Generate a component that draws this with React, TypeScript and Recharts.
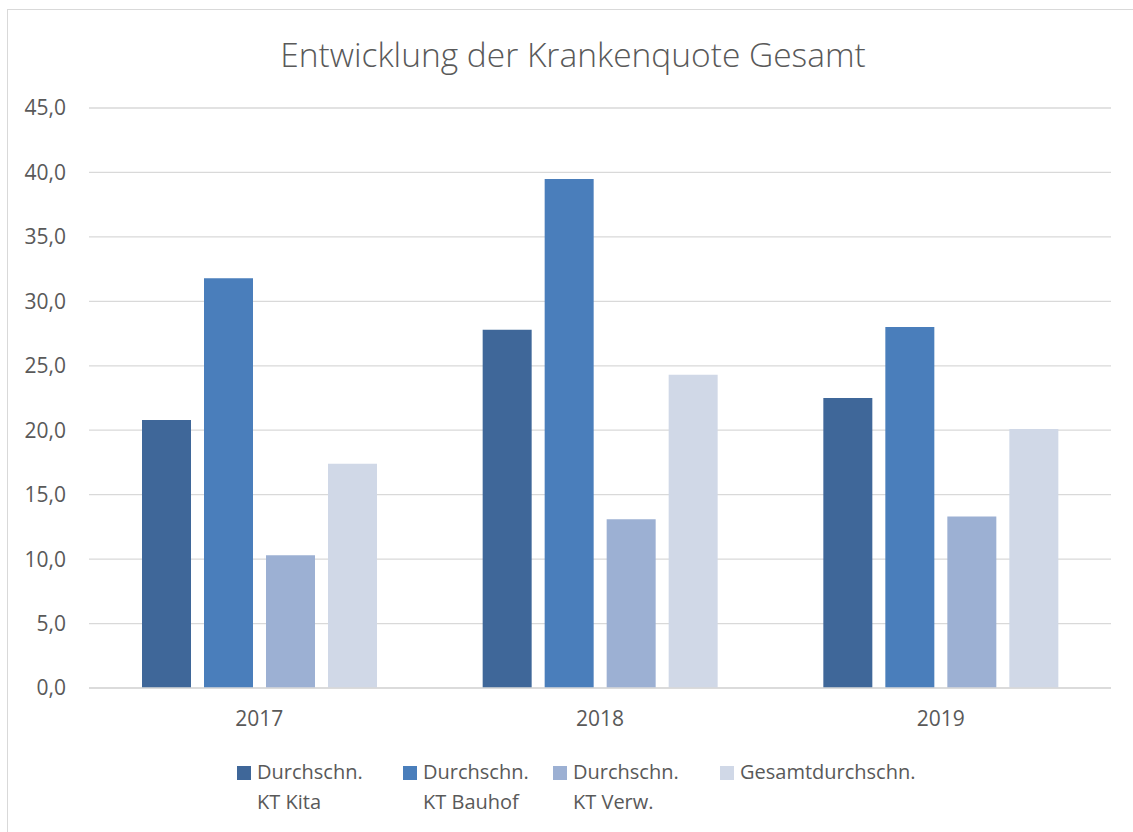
import React from "react";
import { BarChart, Bar, XAxis, YAxis, CartesianGrid } from "recharts";

// values
const years = ["2017", "2018", "2019"];
const ktKita = [20.8, 27.8, 22.5];
const ktBauhof = [31.8, 39.5, 28.0];
const ktVerw = [10.3, 13.1, 13.3];
const gesamt = [17.4, 24.3, 20.1];
const yTicks = [0, 5, 10, 15, 20, 25, 30, 35, 40, 45];

const seriesDefs = [
  { key: "kita", label: ["Durchschn.", "KT Kita"], color: "#3F6799" },
  { key: "bauhof", label: ["Durchschn.", "KT Bauhof"], color: "#4A7EBB" },
  { key: "verw", label: ["Durchschn.", "KT Verw."], color: "#9CB0D3" },
  { key: "gesamt", label: ["Gesamtdurchschn."], color: "#D0D8E7" },
];

const legendX = [237, 403, 553, 720];

const data = years.map((y, i) => ({
  year: y,
  kita: ktKita[i],
  bauhof: ktBauhof[i],
  verw: ktVerw[i],
  gesamt: gesamt[i],
}));

const FONT = "'Open Sans', sans-serif";
const TEXT = "#595959";

const fmt = (v: number) => v.toFixed(1).replace(".", ",");

export default function App() {
  return (
    <div
      style={{
        position: "absolute",
        left: 0,
        top: 0,
        width: 1133,
        height: 832,
        overflow: "hidden",
        background: "#fff",
        fontFamily: FONT,
      }}
    >
      <div
        style={{
          position: "absolute",
          left: 7,
          top: 9,
          width: 1160,
          height: 860,
          border: "1.5px solid #D9D9D9",
        }}
      />
      <div
        style={{
          position: "absolute",
          top: 31,
          left: 0,
          width: 1146,
          textAlign: "center",
          fontSize: 33.5,
          fontWeight: 300,
          color: TEXT,
        }}
      >
        Entwicklung der Krankenquote Gesamt
      </div>

      <div style={{ position: "absolute", left: 0, top: 0 }}>
        <BarChart
          width={1133}
          height={832}
          data={data}
          margin={{ top: 108, right: 22, bottom: 104, left: 0 }}
          barSize={49}
          barGap={13}
        >
          <CartesianGrid vertical={false} stroke="#D9D9D9" strokeWidth={1.3} />
          <XAxis
            dataKey="year"
            height={40}
            tickLine={false}
            axisLine={{ stroke: "#D9D9D9", strokeWidth: 1.5 }}
            tick={{ fill: TEXT, fontSize: 21, fontFamily: FONT }}
            tickMargin={17}
          />
          <YAxis
            width={89}
            domain={[0, 45]}
            ticks={yTicks}
            interval={0}
            tickLine={false}
            axisLine={false}
            tickFormatter={fmt}
            tick={{ fill: TEXT, fontSize: 21, fontFamily: FONT }}
            tickMargin={17}
          />
          {seriesDefs.map((s) => (
            <Bar key={s.key} dataKey={s.key} fill={s.color} isAnimationActive={false} />
          ))}
        </BarChart>
      </div>

      {seriesDefs.map((s, i) => (
        <div
          key={s.key}
          style={{
            position: "absolute",
            left: legendX[i],
            top: 757,
            display: "flex",
            alignItems: "flex-start",
            color: TEXT,
            fontSize: 20,
            lineHeight: "30px",
          }}
        >
          <span
            style={{
              display: "inline-block",
              width: 14,
              height: 14,
              background: s.color,
              marginTop: 9,
              marginRight: 6,
            }}
          />
          <span>
            {s.label.map((l) => (
              <div key={l}>{l}</div>
            ))}
          </span>
        </div>
      ))}
    </div>
  );
}
